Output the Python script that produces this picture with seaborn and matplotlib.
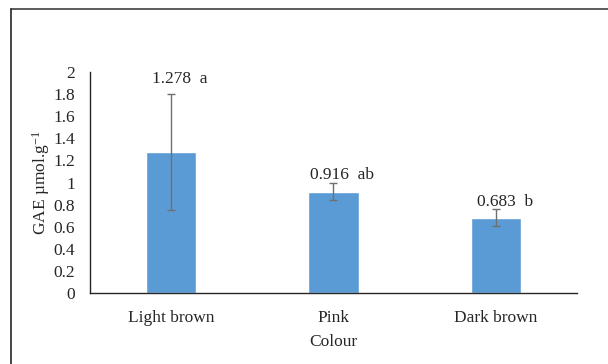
import matplotlib
matplotlib.use("Agg")
import matplotlib.pyplot as plt
import seaborn as sns
import pandas as pd
from matplotlib.lines import Line2D

colours = ["Light brown", "Pink", "Dark brown"]
gae = [1.278, 0.916, 0.683]
gae_err = [0.525, 0.078, 0.078]
letters = ["a", "ab", "b"]

sns.set_style("white")
plt.rcParams["font.family"] = ["Liberation Serif", "DejaVu Serif"]
plt.rcParams["mathtext.fontset"] = "custom"
plt.rcParams["mathtext.rm"] = "Liberation Serif"
plt.rcParams["mathtext.it"] = "Liberation Serif:italic"

FS = 12.5
TXT = "#262626"

df = pd.DataFrame({"Colour": colours, "GAE": gae})

fig = plt.figure(figsize=(6.08, 3.64), dpi=100)
ax = fig.add_axes([0.148, 0.195, 0.801, 0.607])

sns.barplot(data=df, x="Colour", y="GAE", color="#5B9BD5", saturation=1,
            width=0.31, errorbar=None, ax=ax)
ax.errorbar(range(len(gae)), gae, yerr=gae_err, fmt="none",
            ecolor="#6f6f6f", elinewidth=1, capsize=3, capthick=1)

# value labels with significance letters
label_pad = [0.136, 0.073, 0.06]
for i, (v, e, l) in enumerate(zip(gae, gae_err, letters)):
    ax.text(i + 0.055, v + e + label_pad[i], f"{v:.3f}  {l}",
            ha="center", va="center", fontsize=FS, color=TXT)

ax.set_xlim(-0.5, 2.5)
ax.set_ylim(0, 2)
ax.set_yticks([i / 5 for i in range(11)])
ax.set_yticklabels(["0", "0.2", "0.4", "0.6", "0.8", "1", "1.2", "1.4", "1.6", "1.8", "2"])
ax.tick_params(axis="both", labelsize=FS, labelcolor=TXT, length=0)
ax.tick_params(axis="y", pad=11)
ax.tick_params(axis="x", pad=12)
sns.despine(ax=ax, top=True, right=True)
for side in ["left", "bottom"]:
    ax.spines[side].set_color(TXT)
    ax.spines[side].set_linewidth(1)

ax.set_xlabel("Colour", fontsize=FS, color=TXT, labelpad=6)
ax.set_ylabel("GAE µmol.g$^{-1}$", fontsize=FS, color=TXT, labelpad=1)

# outer frame lines (top and left)
fig.add_artist(Line2D([11 / 608, 1], [1 - 9 / 364, 1 - 9 / 364],
                      transform=fig.transFigure, color="#404040", lw=1.2))
fig.add_artist(Line2D([11 / 608, 11 / 608], [0, 1 - 9 / 364],
                      transform=fig.transFigure, color=TXT, lw=1.2))

fig.savefig("out.png", dpi=100)
